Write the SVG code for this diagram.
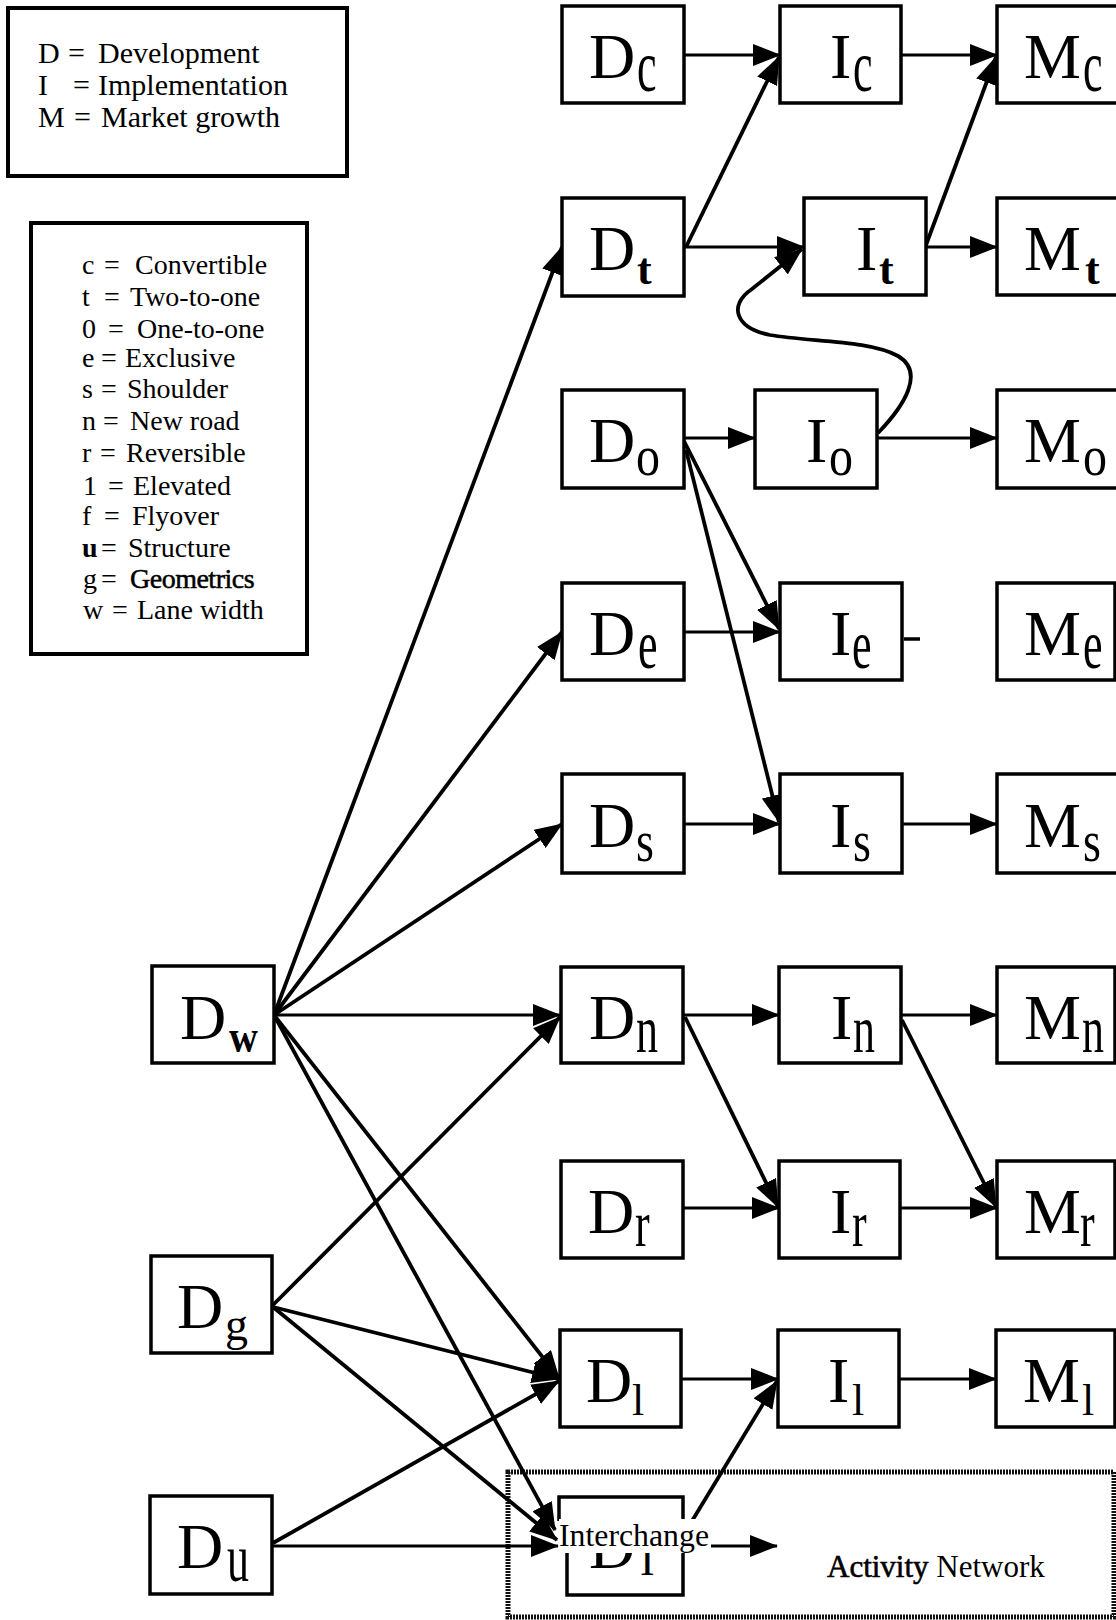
<svg xmlns="http://www.w3.org/2000/svg" width="1116" height="1620" viewBox="0 0 1116 1620">
<style>
text { font-family: "Liberation Serif", "Times New Roman", serif; fill: #000; }
.box { fill: #fff; stroke: #000; stroke-width: 3.5; }
.lg { fill: none; stroke: #000; stroke-width: 4; }
.l1 { font-size: 30px; }
.l2 { font-size: 28px; }
.big { font-size: 64px; }
.sub { font-size: 44px; }
.con line, .con path { stroke: #000; stroke-width: 3.8; fill: none; marker-end: url(#ah); }
.con .h { stroke-width: 3; }
</style>
<defs>
<marker id="ah" viewBox="0 0 28 22" refX="27" refY="11" markerWidth="28" markerHeight="22" markerUnits="userSpaceOnUse" orient="auto">
<path d="M0,0 L28,11 L0,22 z" fill="#000"/>
</marker>
<clipPath id="remnant"><rect x="555" y="1553" width="140" height="40"/></clipPath>
</defs>
<rect width="1116" height="1620" fill="#fff"/>

<!-- Activity network frame -->
<rect id="frame" x="508" y="1472" width="606" height="145" fill="none" stroke="#111" stroke-width="5" stroke-dasharray="2 1"/>

<!-- Legends -->
<g id="legend1">
<rect class="lg" x="8" y="8" width="339" height="168"/>
<text class="l1" y="63"><tspan x="38">D</tspan><tspan x="68">=</tspan><tspan x="98">Development</tspan></text>
<text class="l1" y="95"><tspan x="38">I</tspan><tspan x="73">=</tspan><tspan x="98">Implementation</tspan></text>
<text class="l1" y="127"><tspan x="38">M</tspan><tspan x="74">=</tspan><tspan x="101">Market growth</tspan></text>
</g>
<g id="legend2">
<rect class="lg" x="31" y="223" width="276" height="431"/>
<text class="l2" y="274"><tspan x="82">c</tspan><tspan x="104">=</tspan><tspan x="135">Convertible</tspan></text>
<text class="l2" y="306"><tspan x="82">t</tspan><tspan x="104">=</tspan><tspan x="130">Two-to-one</tspan></text>
<text class="l2" y="338"><tspan x="82">0</tspan><tspan x="108">=</tspan><tspan x="137">One-to-one</tspan></text>
<text class="l2" y="367"><tspan x="82">e</tspan><tspan x="101">=</tspan><tspan x="125">Exclusive</tspan></text>
<text class="l2" y="398"><tspan x="82">s</tspan><tspan x="101">=</tspan><tspan x="127">Shoulder</tspan></text>
<text class="l2" y="430"><tspan x="82">n</tspan><tspan x="103">=</tspan><tspan x="130">New road</tspan></text>
<text class="l2" y="462"><tspan x="82">r</tspan><tspan x="100">=</tspan><tspan x="126">Reversible</tspan></text>
<text class="l2" y="495"><tspan x="83">1</tspan><tspan x="108">=</tspan><tspan x="133">Elevated</tspan></text>
<text class="l2" y="525"><tspan x="82">f</tspan><tspan x="104">=</tspan><tspan x="132">Flyover</tspan></text>
<text class="l2" y="557"><tspan x="82" font-weight="bold">u</tspan><tspan x="101">=</tspan><tspan x="128">Structure</tspan></text>
<text class="l2" y="588"><tspan x="83">g</tspan><tspan x="101">=</tspan><tspan x="130" stroke="#000" stroke-width="0.5" letter-spacing="-0.5">Geometrics</tspan></text>
<text class="l2" y="619"><tspan x="83">w</tspan><tspan x="112">=</tspan><tspan x="137">Lane width</tspan></text>
</g>

<!-- Connectors -->
<g id="connectors" class="con">
<line class="h" x1="684" y1="55" x2="780" y2="55"/>
<line class="h" x1="901" y1="55" x2="997" y2="55"/>
<line x1="686" y1="247" x2="779" y2="57"/>
<line class="h" x1="684" y1="247" x2="804" y2="247"/>
<line x1="926" y1="245" x2="996" y2="57"/>
<line class="h" x1="926" y1="247" x2="997" y2="247"/>
<path d="M878,433 C905,405 925,372 898,356 C870,340 810,342 770,335 C735,328 728,305 752,289 L802,249" stroke-width="2.6"/>
<line class="h" x1="684" y1="438" x2="755" y2="438"/>
<line class="h" x1="877" y1="438" x2="997" y2="438"/>
<line x1="684" y1="441" x2="779" y2="629"/>
<line x1="686" y1="450" x2="779" y2="822"/>
<line class="h" x1="684" y1="632" x2="780" y2="632"/>
<line class="h" x1="684" y1="824" x2="780" y2="824"/>
<line class="h" x1="902" y1="824" x2="997" y2="824"/>
<line class="h" x1="684" y1="1015" x2="779" y2="1015"/>
<line class="h" x1="901" y1="1015" x2="997" y2="1015"/>
<line x1="685" y1="1017" x2="778" y2="1207"/>
<line x1="902" y1="1020" x2="996" y2="1207"/>
<line class="h" x1="684" y1="1208" x2="779" y2="1208"/>
<line class="h" x1="901" y1="1208" x2="997" y2="1208"/>
<line class="h" x1="681" y1="1379" x2="778" y2="1379"/>
<line class="h" x1="899" y1="1379" x2="996" y2="1379"/>
<line x1="692" y1="1521" x2="777" y2="1381"/>
<line class="h" x1="710" y1="1546" x2="777" y2="1546"/>
<line x1="274" y1="1015" x2="562" y2="247"/>
<line x1="274" y1="1015" x2="562" y2="632"/>
<line x1="274" y1="1015" x2="562" y2="824"/>
<line class="h" x1="274" y1="1015" x2="560" y2="1015"/>
<line x1="274" y1="1015" x2="559" y2="1378"/>
<line x1="274" y1="1015" x2="555" y2="1530"/>
<line x1="273" y1="1305" x2="560" y2="1017"/>
<line x1="273" y1="1307" x2="559" y2="1379"/>
<line x1="273" y1="1307" x2="557" y2="1540"/>
<line x1="273" y1="1543" x2="559" y2="1381"/>
<line class="h" x1="273" y1="1546" x2="558" y2="1546"/>
</g>

<!-- Nodes -->
<g id="Dc"><rect class="box" x="562" y="6" width="122" height="97"/><text class="big" x="589" y="78">D</text><text class="sub" transform="translate(637,91) scale(1,1.7)">c</text></g>
<g id="Ic"><rect class="box" x="780" y="6" width="121" height="97"/><text class="big" x="830" y="78">I</text><text class="sub" transform="translate(853,91) scale(1,1.7)">c</text></g>
<g id="Mc"><rect class="box" x="997" y="6" width="123" height="97"/><text class="big" x="1024" y="78">M</text><text class="sub" transform="translate(1083,91) scale(1,1.7)">c</text></g>

<g id="Dt"><rect class="box" x="562" y="198" width="122" height="98"/><text class="big" x="589" y="270">D</text><text class="sub" font-weight="bold" x="637" y="284">t</text></g>
<g id="It"><rect class="box" x="804" y="198" width="122" height="97"/><text class="big" x="856" y="270">I</text><text class="sub" font-weight="bold" x="879" y="284">t</text></g>
<g id="Mt"><rect class="box" x="997" y="198" width="123" height="97"/><text class="big" x="1024" y="270">M</text><text class="sub" font-weight="bold" x="1085" y="284">t</text></g>

<g id="Do"><rect class="box" x="562" y="390" width="122" height="98"/><text class="big" x="589" y="462">D</text><text font-size="48" transform="translate(636,475) scale(1,1.2)">o</text></g>
<g id="Io"><rect class="box" x="755" y="390" width="122" height="98"/><text class="big" x="806" y="462">I</text><text font-size="48" transform="translate(829,475) scale(1,1.2)">o</text></g>
<g id="Mo"><rect class="box" x="997" y="390" width="123" height="98"/><text class="big" x="1024" y="462">M</text><text font-size="48" transform="translate(1083,475) scale(1,1.2)">o</text></g>

<g id="De"><rect class="box" x="562" y="583" width="122" height="97"/><text class="big" x="589" y="655">D</text><text class="sub" transform="translate(638,668) scale(1,1.6)">e</text></g>
<g id="Ie"><rect class="box" x="780" y="583" width="122" height="97"/><text class="big" x="830" y="655">I</text><text class="sub" transform="translate(852,668) scale(1,1.6)">e</text><line x1="904" y1="639" x2="920" y2="639" stroke="#000" stroke-width="3.5"/></g>
<g id="Me"><rect class="box" x="997" y="583" width="118" height="97"/><text class="big" x="1024" y="655">M</text><text class="sub" transform="translate(1083,668) scale(1,1.6)">e</text></g>

<g id="Ds"><rect class="box" x="562" y="774" width="122" height="99"/><text class="big" x="589" y="847">D</text><text font-size="46" transform="translate(636,861) scale(1,1.3)">s</text></g>
<g id="Is"><rect class="box" x="780" y="774" width="122" height="99"/><text class="big" x="830" y="847">I</text><text font-size="46" transform="translate(853,861) scale(1,1.3)">s</text></g>
<g id="Ms"><rect class="box" x="997" y="774" width="123" height="99"/><text class="big" x="1024" y="847">M</text><text font-size="46" transform="translate(1083,861) scale(1,1.3)">s</text></g>

<g id="Dw"><rect class="box" x="152" y="966" width="122" height="97"/><text class="big" x="180" y="1039">D</text><text font-size="40" font-weight="bold" transform="translate(229,1052) scale(1,1.15)">w</text></g>
<g id="Dn"><rect class="box" x="561" y="967" width="122" height="96"/><text class="big" x="589" y="1039">D</text><text class="sub" transform="translate(636,1052) scale(1,1.55)">n</text></g>
<g id="In"><rect class="box" x="779" y="967" width="122" height="96"/><text class="big" x="831" y="1039">I</text><text class="sub" transform="translate(853,1052) scale(1,1.55)">n</text></g>
<g id="Mn"><rect class="box" x="997" y="967" width="118" height="96"/><text class="big" x="1024" y="1039">M</text><text class="sub" transform="translate(1082,1052) scale(1,1.55)">n</text></g>

<g id="Dr"><rect class="box" x="561" y="1161" width="122" height="97"/><text class="big" x="588" y="1233">D</text><text class="sub" transform="translate(635,1246) scale(1,1.5)">r</text></g>
<g id="Ir"><rect class="box" x="779" y="1161" width="121" height="97"/><text class="big" x="830" y="1233">I</text><text class="sub" transform="translate(852,1246) scale(1,1.5)">r</text></g>
<g id="Mr"><rect class="box" x="997" y="1161" width="118" height="97"/><text class="big" x="1024" y="1233">M</text><text class="sub" transform="translate(1080,1246) scale(1,1.5)">r</text></g>

<g id="Dg"><rect class="box" x="151" y="1256" width="121" height="97"/><text class="big" x="177" y="1328">D</text><text font-size="46" x="225" y="1340">g</text></g>

<g id="Dl"><rect class="box" x="560" y="1330" width="121" height="97"/><text class="big" x="586" y="1402">D</text><text class="sub" x="632" y="1415">l</text></g>
<g id="Il"><rect class="box" x="778" y="1330" width="121" height="97"/><text class="big" x="828" y="1402">I</text><text class="sub" x="852" y="1415">l</text></g>
<g id="Ml"><rect class="box" x="996" y="1330" width="119" height="97"/><text class="big" x="1023" y="1402">M</text><text class="sub" x="1082" y="1415">l</text></g>

<g id="Du"><rect class="box" x="150" y="1496" width="122" height="98"/><text class="big" x="177" y="1568">D</text><text class="sub" transform="translate(227,1581) scale(1,1.55)">u</text></g>

<g id="DI">
<path d="M559,1521 V1497 H683 V1595 H567 V1553" fill="none" stroke="#000" stroke-width="3.5"/>
<g clip-path="url(#remnant)">
<text class="big" x="589" y="1568">D</text>
<text class="sub" x="640" y="1575">I</text>
</g>
<rect x="559" y="1519" width="152" height="34" fill="#fff"/>
<text font-size="32" x="559" y="1546" textLength="150" lengthAdjust="spacingAndGlyphs">Interchange</text>
</g>

<g id="activity-label">
<text font-size="31" x="827" y="1577"><tspan stroke="#000" stroke-width="0.6">Activity</tspan> Network</text>
</g>
</svg>
